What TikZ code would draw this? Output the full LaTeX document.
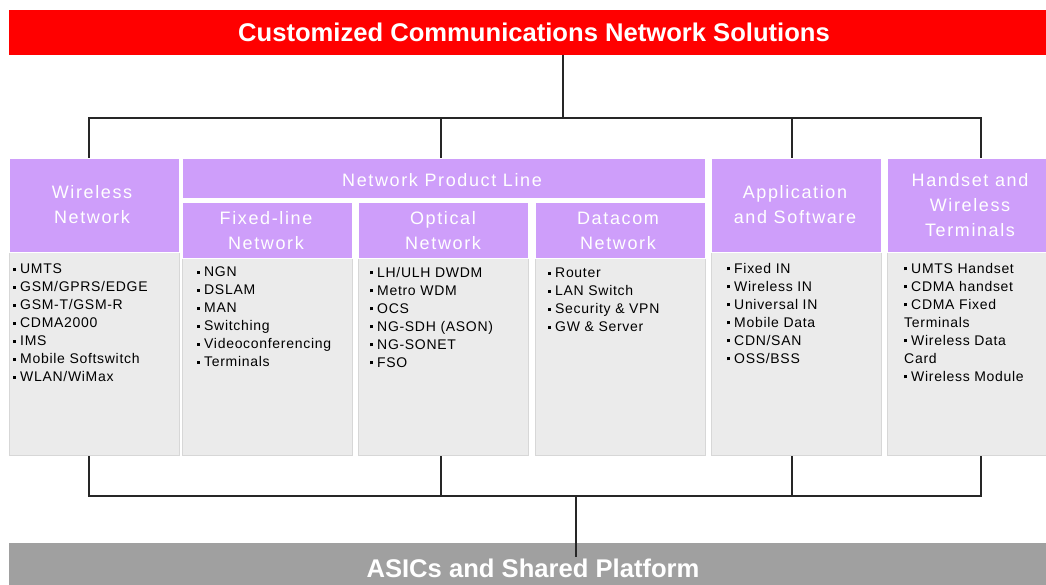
\documentclass[tikz,border=0pt]{standalone}
\usepackage{fontspec}
\setmainfont{Liberation Sans}
\newfontfamily\hdfont[LetterSpace=9]{Liberation Sans}
\newfontfamily\lsfont[LetterSpace=5]{Liberation Sans}
\definecolor{redbar}{RGB}{255,0,0}
\definecolor{purp}{RGB}{206,158,250}
\definecolor{bodyg}{RGB}{235,235,235}
\definecolor{bodyb}{RGB}{215,215,215}
\definecolor{grayb}{RGB}{160,160,160}
\begin{document}
\begin{tikzpicture}[x=1pt,y=-1pt,
  bar/.style={draw=none,inner sep=0,anchor=north west},
  hdr/.style={fill=purp,draw=white,line width=0.6pt,inner sep=0,anchor=north west},
  bodybox/.style={fill=bodyg,draw=bodyb,line width=0.6pt,inner sep=0,anchor=north west},
  hdtext/.style={text=white,font=\hdfont\fontsize{18}{25}\selectfont,align=center,inner sep=0},
  lst/.style={anchor=north west,inner sep=0,align=left,font=\lsfont\fontsize{14}{18}\selectfont},
  bigtext/.style={text=white,font=\bfseries\fontsize{25.6}{28}\selectfont,inner sep=0},
  conn/.style={draw=black!85,line width=1.6pt}]
\useasboundingbox (0,0) rectangle (1046,585);
\newcommand{\bt}{\rule[0.22em]{3pt}{3pt}\hspace{4pt}}
% title and base
\node[bar,fill=redbar,minimum width=1037pt,minimum height=45pt] (title) at (9,10) {};
\node[bigtext] (titletext) at (534,32) {Customized Communications Network Solutions};
\node[bar,fill=grayb,minimum width=1037pt,minimum height=42pt] (base) at (9,543) {};
% connectors
\coordinate (tc) at (563,55);
\coordinate (tb) at (563,118);
\coordinate (t1) at (89,158);
\coordinate (t2) at (441,158);
\coordinate (t3) at (792,158);
\coordinate (t4) at (981,158);
\coordinate (b1) at (89,455);
\coordinate (b2) at (441,455);
\coordinate (b3) at (792,455);
\coordinate (b4) at (981,455);
\coordinate (bb) at (576,496);
\coordinate (bc) at (576,557);
\draw[conn] (tc) -- (tb);
\draw[conn] (t1) |- (tb) -| (t4);
\draw[conn] (t2) -- (t2 |- tb);
\draw[conn] (t3) -- (t3 |- tb);
\draw[conn] (b1) |- (bb) -| (b4);
\draw[conn] (b2) -- (b2 |- bb);
\draw[conn] (b3) -- (b3 |- bb);
\draw[conn] (bb) -- (bc);
\node[bigtext] (basetext) at (533,568) {ASICs and Shared Platform};
% column boxes
\node[bodybox,minimum width=170pt,minimum height=203pt] (wlb) at (9,252) {};
\node[hdr,minimum width=170pt,minimum height=94pt] (wl) at (9,158) {};
\node[hdr,minimum width=523pt,minimum height=40pt] (npl) at (182,158) {};
\node[bodybox,minimum width=170pt,minimum height=197pt] (flb) at (182,258) {};
\node[hdr,minimum width=170pt,minimum height=56pt] (fl) at (182,202) {};
\node[bodybox,minimum width=170pt,minimum height=197pt] (opb) at (358,258) {};
\node[hdr,minimum width=170pt,minimum height=56pt] (op) at (358,202) {};
\node[bodybox,minimum width=170pt,minimum height=197pt] (dcb) at (535,258) {};
\node[hdr,minimum width=170pt,minimum height=56pt] (dc) at (535,202) {};
\node[bodybox,minimum width=170pt,minimum height=203pt] (appb) at (711,252) {};
\node[hdr,minimum width=170pt,minimum height=94pt] (app) at (711,158) {};
\node[bodybox,minimum width=160pt,minimum height=203pt] (hsb) at (887,252) {};
\node[hdr,minimum width=160pt,minimum height=94pt] (hs) at (887,158) {};
% header texts
\node[hdtext] (wlt) at (92,205) {Wireless\\Network};
\node[hdtext] (nplt) at (442,180) {Network Product Line};
\node[hdtext] (flt) at (266,231) {Fixed-line\\Network};
\node[hdtext] (opt) at (443,231) {Optical\\Network};
\node[hdtext] (dct) at (618,231) {Datacom\\Network};
\node[hdtext] (appt) at (795,205) {Application\\and Software};
\node[hdtext] (hst) at (970,205) {Handset and\\Wireless\\Terminals};
% lists
\node[lst] (wll) at (13,264) {\bt UMTS\\\bt GSM/GPRS/EDGE\\\bt GSM-T/GSM-R\\\bt CDMA2000\\\bt IMS\\\bt Mobile Softswitch\\\bt WLAN/WiMax};
\node[lst] (fll) at (197,267) {\bt NGN\\\bt DSLAM\\\bt MAN\\\bt Switching\\\bt Videoconferencing\\\bt Terminals};
\node[lst] (opl) at (370,267) {\bt LH/ULH DWDM\\\bt Metro WDM\\\bt OCS\\\bt NG-SDH (ASON)\\\bt NG-SONET\\\bt FSO};
\node[lst] (dcl) at (548,268) {\bt Router\\\bt LAN Switch\\\bt Security \& VPN\\\bt GW \& Server};
\node[lst] (appl) at (727,263) {\bt Fixed IN\\\bt Wireless IN\\\bt Universal IN\\\bt Mobile Data\\\bt CDN/SAN\\\bt OSS/BSS};
\node[lst] (hsl) at (904,263) {\bt UMTS Handset\\\bt CDMA handset\\\bt CDMA Fixed\\Terminals\\\bt Wireless Data\\Card\\\bt Wireless Module};
\end{tikzpicture}
\end{document}
